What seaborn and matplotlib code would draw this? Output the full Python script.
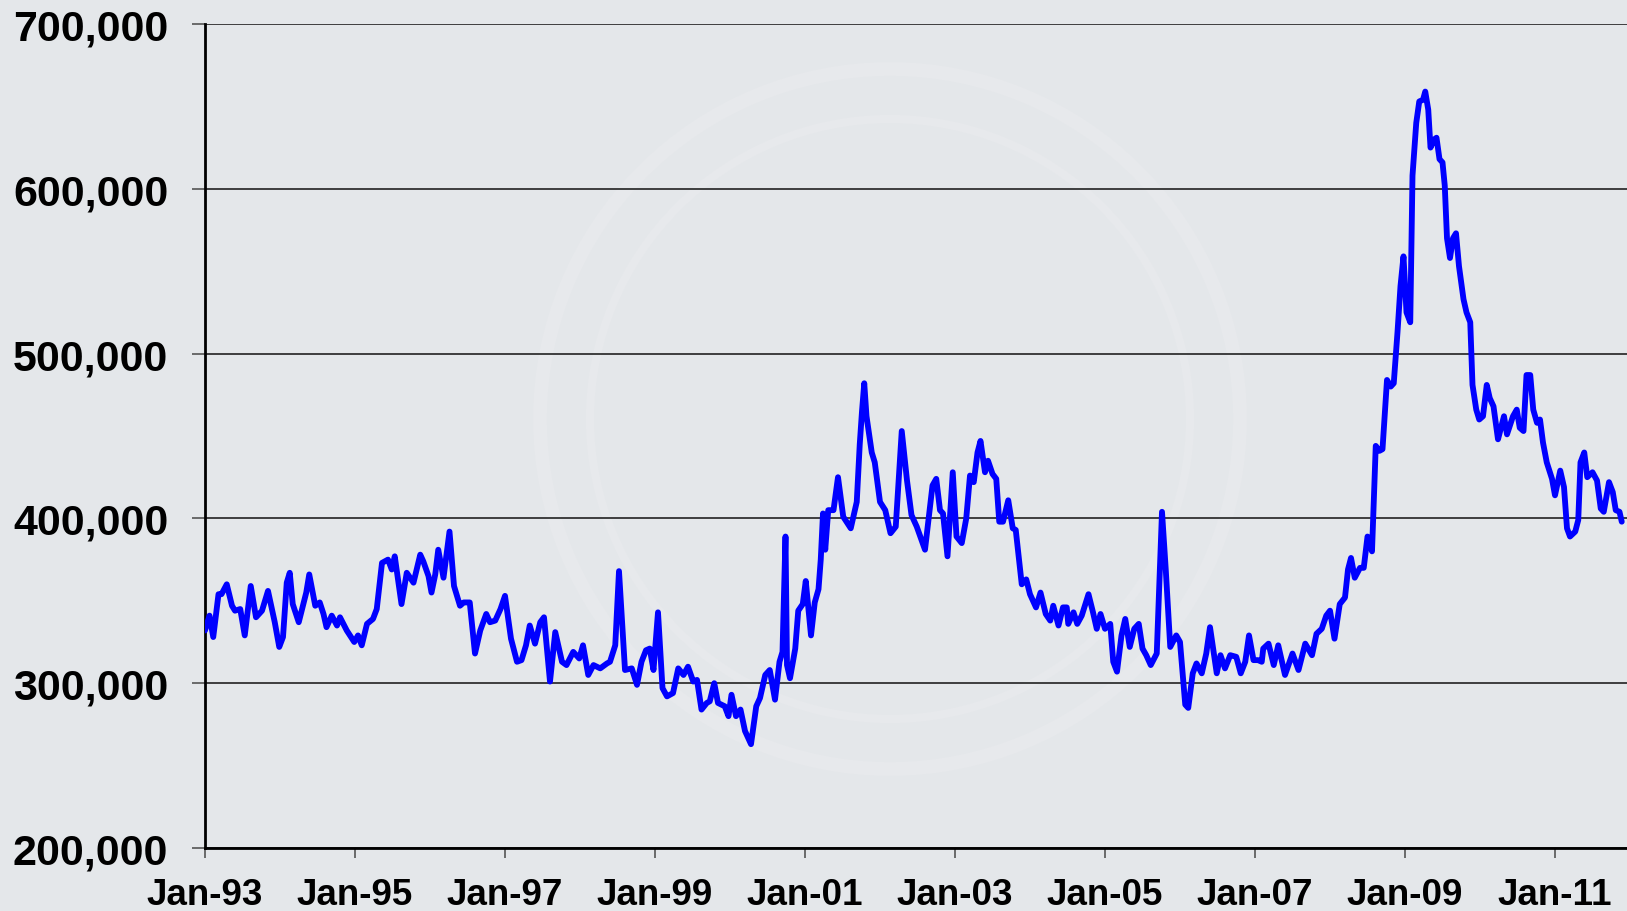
import matplotlib
matplotlib.use("Agg")
import matplotlib.pyplot as plt
from matplotlib.patches import Circle
import pandas as pd
import seaborn as sns

# weekly initial jobless claims
# time as decimal year, claims in thousands

t_1993 = [1993.00, 1993.06, 1993.11, 1993.18, 1993.22, 1993.29, 1993.36, 1993.40, 1993.47, 1993.53,
          1993.61, 1993.68, 1993.76, 1993.84, 1993.93, 1993.99, 1994.04, 1994.09, 1994.13, 1994.17,
          1994.25, 1994.35, 1994.39, 1994.47, 1994.53, 1994.58, 1994.62, 1994.69, 1994.76, 1994.80,
          1994.89, 1994.99, 1995.04, 1995.09, 1995.16, 1995.24, 1995.29, 1995.36, 1995.44, 1995.49,
          1995.53, 1995.62, 1995.69, 1995.78, 1995.87, 1995.91, 1995.98, 1996.02, 1996.07, 1996.11,
          1996.18, 1996.26, 1996.32, 1996.40]
v_1993 = [332, 341, 328, 354, 354, 360, 347, 344, 345, 329,
          359, 340, 344, 356, 337, 322, 328, 361, 367, 348,
          337, 355, 366, 347, 349, 342, 334, 341, 335, 340,
          332, 325, 329, 323, 336, 339, 345, 373, 375, 369,
          377, 348, 367, 361, 378, 374, 365, 355, 366, 381,
          364, 392, 359, 347]

t_1996 = [1996.45, 1996.53, 1996.60, 1996.67, 1996.75, 1996.80, 1996.87, 1996.94, 1997.00, 1997.08,
          1997.16, 1997.22, 1997.28, 1997.33, 1997.40, 1997.47, 1997.52, 1997.60, 1997.67, 1997.76,
          1997.82, 1997.91, 1997.99, 1998.04, 1998.11, 1998.18, 1998.27, 1998.36, 1998.40, 1998.47,
          1998.52, 1998.60, 1998.69, 1998.76, 1998.82, 1998.88, 1998.93, 1998.98, 1999.04, 1999.10,
          1999.16, 1999.24, 1999.31, 1999.38, 1999.44, 1999.51]
v_1996 = [349, 349, 318, 332, 342, 337, 338, 345, 353, 327,
          313, 314, 323, 335, 324, 337, 340, 301, 331, 313,
          311, 319, 315, 323, 305, 311, 309, 312, 313, 323,
          368, 308, 309, 299, 313, 320, 321, 308, 343, 297,
          292, 294, 309, 305, 310, 301]

t_1999 = [1999.56, 1999.62, 1999.69, 1999.73, 1999.79, 1999.84, 1999.93, 1999.98, 2000.02, 2000.08,
          2000.14, 2000.20, 2000.28, 2000.35, 2000.40, 2000.47, 2000.53, 2000.60, 2000.66, 2000.70,
          2000.74, 2000.76, 2000.80, 2000.87, 2000.91, 2000.97, 2001.01, 2001.08, 2001.13, 2001.18,
          2001.21, 2001.24, 2001.27, 2001.31, 2001.38, 2001.44, 2001.51, 2001.61, 2001.69, 2001.73,
          2001.76, 2001.79, 2001.82, 2001.89, 2001.93, 2002.00, 2002.07, 2002.14, 2002.21, 2002.29,
          2002.36, 2002.42, 2002.49]
v_1999 = [302, 284, 288, 289, 300, 288, 286, 280, 293, 280,
          284, 271, 263, 286, 291, 305, 308, 290, 313, 319,
          389, 311, 303, 321, 344, 348, 362, 329, 349, 357,
          375, 403, 381, 405, 405, 425, 401, 394, 410, 445,
          465, 482, 462, 440, 434, 410, 405, 391, 395, 453,
          423, 402, 395]

t_2002 = [2002.60, 2002.70, 2002.75, 2002.80, 2002.84, 2002.90, 2002.97, 2003.02, 2003.09, 2003.15,
          2003.20, 2003.25, 2003.30, 2003.34, 2003.40, 2003.44, 2003.50, 2003.55, 2003.59, 2003.64,
          2003.71, 2003.77, 2003.81, 2003.89, 2003.95, 2004.00, 2004.08, 2004.14, 2004.21, 2004.27,
          2004.31, 2004.38, 2004.44, 2004.49, 2004.51, 2004.58, 2004.63, 2004.69, 2004.78, 2004.84,
          2004.89, 2004.94, 2005.00, 2005.07, 2005.11, 2005.16, 2005.22, 2005.27, 2005.33, 2005.39,
          2005.45, 2005.50, 2005.55, 2005.61, 2005.69, 2005.76, 2005.81, 2005.87, 2005.95]
v_2002 = [381, 420, 424, 405, 403, 377, 428, 389, 385, 400,
          426, 422, 440, 447, 428, 435, 427, 424, 398, 398,
          411, 394, 393, 360, 363, 354, 346, 355, 342, 338,
          347, 335, 346, 346, 336, 343, 336, 341, 354, 343,
          333, 342, 333, 336, 313, 307, 329, 339, 322, 333,
          336, 321, 317, 311, 318, 404, 369, 322, 329]

t_2006 = [2006.00, 2006.07, 2006.11, 2006.17, 2006.22, 2006.29, 2006.35, 2006.40, 2006.49, 2006.54,
          2006.60, 2006.67, 2006.75, 2006.81, 2006.87, 2006.92, 2006.98, 2007.04, 2007.09, 2007.11,
          2007.18, 2007.25, 2007.31, 2007.40, 2007.50, 2007.58, 2007.67, 2007.76, 2007.82, 2007.89,
          2007.95, 2008.00, 2008.06, 2008.13, 2008.20, 2008.24, 2008.28, 2008.33, 2008.40, 2008.45,
          2008.50, 2008.56]
v_2006 = [325, 287, 285, 306, 312, 306, 318, 334, 306, 317,
          309, 317, 316, 306, 313, 329, 314, 314, 313, 321,
          324, 311, 323, 305, 318, 308, 324, 317, 330, 333,
          341, 344, 327, 348, 352, 369, 376, 364, 370, 370,
          389, 380]

t_2008 = [2008.61, 2008.66, 2008.70, 2008.76, 2008.81, 2008.85, 2008.90, 2008.94, 2008.98, 2009.02,
          2009.07, 2009.10, 2009.15, 2009.19, 2009.24, 2009.27, 2009.31, 2009.34, 2009.39, 2009.42,
          2009.46, 2009.50, 2009.53, 2009.56, 2009.60, 2009.64, 2009.68, 2009.72, 2009.78, 2009.82,
          2009.87, 2009.90, 2009.95, 2009.99, 2010.04, 2010.09, 2010.13, 2010.18, 2010.24, 2010.32,
          2010.36, 2010.44, 2010.49, 2010.53, 2010.58, 2010.62, 2010.67, 2010.71, 2010.76, 2010.80,
          2010.84, 2010.89, 2010.96, 2011.00, 2011.07, 2011.12, 2011.16, 2011.20, 2011.27, 2011.31,
          2011.34, 2011.39, 2011.43, 2011.50, 2011.56, 2011.61, 2011.65, 2011.72, 2011.77, 2011.81,
          2011.86, 2011.89]
v_2008 = [444, 441, 442, 484, 480, 482, 513, 541, 559, 525,
          519, 608, 640, 653, 654, 659, 648, 625, 630, 631,
          618, 616, 602, 570, 558, 570, 573, 553, 533, 525,
          519, 481, 466, 460, 462, 481, 473, 468, 448, 462,
          451, 462, 466, 455, 453, 487, 487, 466, 458, 460,
          446, 434, 424, 414, 429, 419, 394, 389, 392, 399,
          434, 440, 425, 428, 423, 406, 404, 422, 416, 405,
          404, 398]

y_ticks = [200000, 300000, 400000, 500000, 600000, 700000]
x_ticks = [1993, 1995, 1997, 1999, 2001, 2003, 2005, 2007, 2009, 2011]
x_labels = ["Jan-93", "Jan-95", "Jan-97", "Jan-99", "Jan-01",
            "Jan-03", "Jan-05", "Jan-07", "Jan-09", "Jan-11"]

t = t_1993 + t_1996 + t_1999 + t_2002 + t_2006 + t_2008
v = v_1993 + v_1996 + v_1999 + v_2002 + v_2006 + v_2008
df = pd.DataFrame({"year": t, "claims": [x * 1000 for x in v]})

bg = "#E4E7EA"
sns.set_theme(style="white")
plt.rcParams['font.family'] = ['Liberation Sans', 'DejaVu Sans']

fig = plt.figure(figsize=(16.27, 9.12), dpi=100, facecolor=bg)
W, H = 1627, 912
ax = fig.add_axes([205 / W, 1 - 849 / H, 1 - 205 / W, (849 - 25) / H])
ax.set_facecolor(bg)

# faint watermark rings, kept under grid and data
for r, lw in [(350, 10), (300, 6)]:
    ring = Circle((890, H - 420), r, transform=None, fill=False,
                  edgecolor="#E7E9EC", linewidth=lw, zorder=0.1)
    ax.add_patch(ring)

sns.lineplot(data=df, x="year", y="claims", color="#0000FF", linewidth=4.2,
             estimator=None, sort=False, ax=ax, zorder=3)
for ln in ax.lines:
    ln.set_solid_joinstyle("round")
    ln.set_solid_capstyle("round")

ax.set_xlim(1993, 2011.96)
ax.set_ylim(200000, 700000)
ax.set_yticks(y_ticks)
ax.set_yticklabels([f"{y:,}" for y in y_ticks], fontweight="bold", fontsize=31, color="black")
ax.set_xticks(x_ticks)
ax.set_xticklabels(x_labels, fontweight="bold", fontsize=26.5, color="black")
ax.set_xlabel("")
ax.set_ylabel("")

ax.yaxis.grid(True, color="#222222", linewidth=1.2, zorder=0.5)
ax.xaxis.grid(False)
ax.set_axisbelow(True)
ax.tick_params(axis="y", length=9.4, width=1.2, pad=17, color="#555555", left=True)
ax.tick_params(axis="x", length=7, width=1.2, pad=14, color="#555555", bottom=True)
for s in ["top", "right"]:
    ax.spines[s].set_visible(False)
for s in ["left", "bottom"]:
    ax.spines[s].set_color("black")
    ax.spines[s].set_linewidth(2)

fig.savefig("out.png", dpi=100, facecolor=bg)
